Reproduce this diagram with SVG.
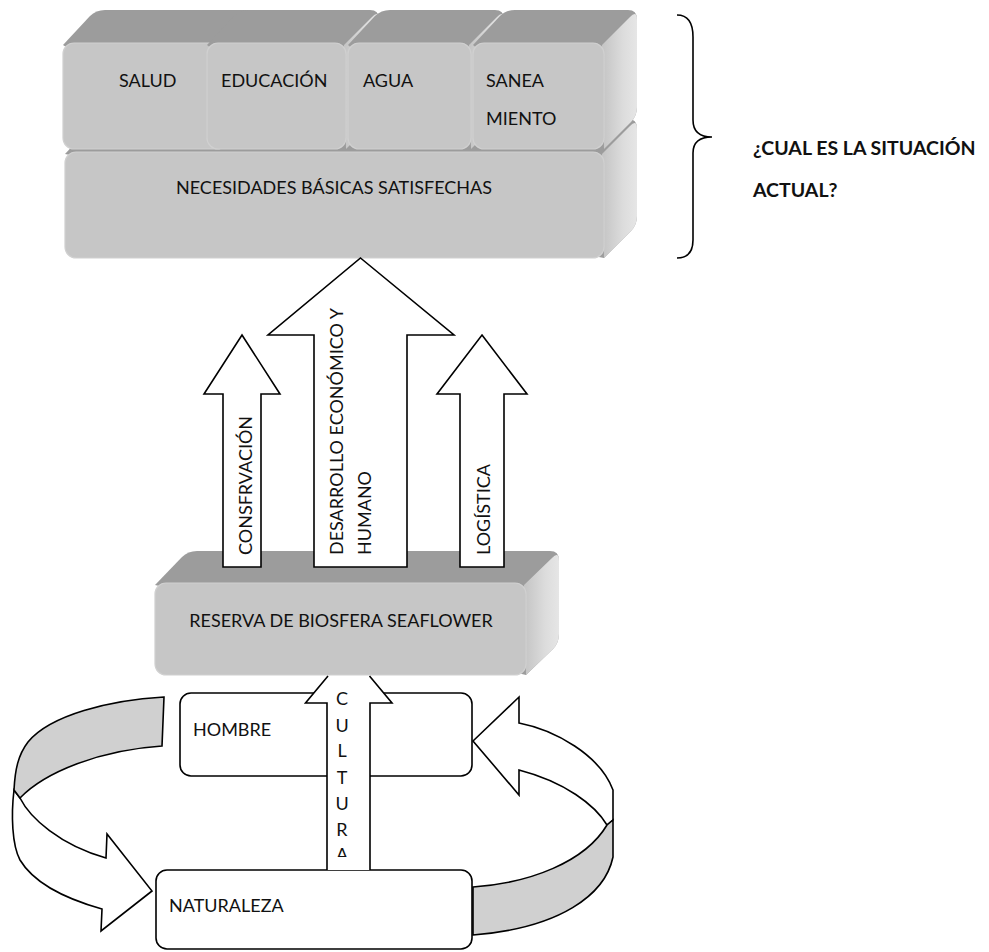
<svg xmlns="http://www.w3.org/2000/svg" width="989" height="952" viewBox="0 0 989 952">
<defs>
<linearGradient id="side" x1="0" y1="0" x2="1" y2="0">
<stop offset="0" stop-color="#c4c4c4"/>
<stop offset="0.6" stop-color="#dcdcdc"/>
<stop offset="1" stop-color="#e6e6e6"/>
</linearGradient>
<clipPath id="cultClip"><rect x="300" y="640" width="100" height="217"/></clipPath>
</defs>
<style>
text{font-family:Lato,"Liberation Sans",sans-serif;font-size:18px;fill:#111}
.b{font-weight:bold;font-size:19.5px}
.top{fill:#9c9c9c}
.side{fill:url(#side)}
.front{fill:#c6c6c6;stroke:#d0d0d0;stroke-width:1.2}
.box{fill:#fff;stroke:#000;stroke-width:1.6}
.arr{fill:#fff;stroke:#000;stroke-width:1.6;stroke-linejoin:miter}
.band{fill:#d0d0d0;stroke:#000;stroke-width:1.6}
.line{fill:none;stroke:#000;stroke-width:1.6}
</style>
<rect width="989" height="952" fill="#fff"/>

<g id="necesidades">
<path class="top" d="M65,154 L92,125 Q98,119 107,119 L628,119 Q637,119 637,128 L637,216 Q637,225 631,231 L604,258 Z"/>
<path class="side" d="M602,154 L630,126 Q637,119 637,129 L637,216 Q637,225 631,231 L604,258 Z"/>
<rect class="front" x="65" y="152" width="539" height="106" rx="11"/>
<text x="334" y="194" text-anchor="middle">NECESIDADES BÁSICAS SATISFECHAS</text>
</g>

<g id="salud">
<path class="top" d="M63,45 L90,16 Q96,10 105,10 L252,10 Q261,10 261,19 L261,107 Q261,116 255,122 L228,149 Z"/>
<rect class="front" x="63" y="43" width="165" height="106" rx="11"/>
<text x="119" y="87">SALUD</text>
</g>

<g id="educacion">
<path class="top" d="M207,45 L234,16 Q240,10 249,10 L370,10 Q379,10 379,19 L379,107 Q379,116 373,122 L346,149 Z"/>
<path class="side" d="M344,45 L372,17 Q379,10 379,20 L379,107 Q379,116 373,122 L346,149 Z"/>
<rect class="front" x="207" y="43" width="139" height="106" rx="11"/>
<text x="221" y="87">EDUCACIÓN</text>
</g>

<g id="agua">
<path class="top" d="M348,45 L375,16 Q381,10 390,10 L495,10 Q504,10 504,19 L504,107 Q504,116 498,122 L471,149 Z"/>
<path class="side" d="M469,45 L497,17 Q504,10 504,20 L504,107 Q504,116 498,122 L471,149 Z"/>
<rect class="front" x="348" y="43" width="123" height="106" rx="11"/>
<text x="363" y="87">AGUA</text>
</g>

<g id="saneamiento">
<path class="top" d="M473,45 L500,16 Q506,10 515,10 L628,10 Q637,10 637,19 L637,107 Q637,116 631,122 L604,149 Z"/>
<path class="side" d="M602,45 L630,17 Q637,10 637,20 L637,107 Q637,116 631,122 L604,149 Z"/>
<rect class="front" x="473" y="43" width="131" height="106" rx="11"/>
<text x="486" y="87">SANEA</text>
<text x="486" y="125">MIENTO</text>
</g>

<g id="situacion">
<path class="line" d="M677,15 Q693,15 693,37 L693,120 Q693,137 712,137 Q693,137 693,153 L693,240 Q693,258 677,258"/>
<text class="b" x="753" y="155">¿CUAL ES LA SITUACIÓN</text>
<text class="b" x="753" y="197">ACTUAL?</text>
</g>

<g id="hombre">
<rect class="box" x="180" y="693" width="292" height="83" rx="11"/>
<text x="193" y="736">HOMBRE</text>
</g>

<g id="naturaleza">
<rect class="box" x="156" y="870" width="316" height="79" rx="11"/>
<text x="169" y="912">NATURALEZA</text>
</g>

<g id="reserva">
<path class="top" d="M155,585 L182,557 Q188,551 197,551 L550,551 Q559,551 559,560 L559,634 Q559,643 553,649 L526,675 Z"/>
<path class="side" d="M524,585 L552,558 Q559,551 559,561 L559,634 Q559,643 553,649 L526,675 Z"/>
<rect class="front" x="155" y="583" width="371" height="92" rx="11"/>
<text x="341" y="627" text-anchor="middle">RESERVA DE BIOSFERA SEAFLOWER</text>
</g>

<g id="connectors">
<g id="arrow-cultura">
<path d="M328,676 L305.5,703 L327,703 L327,870 L370,870 L370,703 L392,703 L369.5,676 Z" fill="#fff"/>
<path class="line" d="M328,676 L305.5,703 L327,703 L327,870 M370,870 L370,703 L392,703 L369.5,676"/>
<g clip-path="url(#cultClip)">
<text x="342" y="705" text-anchor="middle">C</text>
<text x="342" y="732" text-anchor="middle">U</text>
<text x="342" y="757" text-anchor="middle">L</text>
<text x="342" y="784" text-anchor="middle">T</text>
<text x="342" y="810" text-anchor="middle">U</text>
<text x="342" y="836" text-anchor="middle">R</text>
<text x="342" y="861" text-anchor="middle">A</text>
</g>
</g>
<g id="arrow-conservacion">
<path class="arr" d="M242,335 L280,394 L261,394 L261,567 L223,567 L223,394 L204,394 Z"/>
<text transform="translate(252,555) rotate(-90)">CONSFRVACIÓN</text>
</g>
<g id="arrow-desarrollo">
<path class="arr" d="M360.5,258 L454,335 L407,335 L407,567 L314,567 L314,335 L268,335 Z"/>
<text transform="translate(343,555) rotate(-90)">DESARROLLO ECONÓMICO Y</text>
<text transform="translate(371,555) rotate(-90)">HUMANO</text>
</g>
<g id="arrow-logistica">
<path class="arr" d="M482,335 L527,394 L504,394 L504,567 L460,567 L460,394 L437,394 Z"/>
<text transform="translate(490,555) rotate(-90)">LOGÍSTICA</text>
</g>
<g id="cycle-left">
<path class="arr" d="M20,798 C30,818 60,845 106,858 L107,834 L152,891 L101,931 L102,909 C70,900 35,885 20,860 C12,845 11,815 14,790 Z"/>
<path class="band" d="M164,697 C110,700 50,715 28,742 C18,755 15,770 14,790 L20,798 C45,772 100,750 162,746 Z"/>
</g>
<g id="cycle-right">
<path class="arr" d="M473,741 L519,697 L519,723 C555,730 600,755 613,790 L613,820 L607,825 C595,805 565,782 519,770 L519,795 Z"/>
<path class="band" d="M473,887 C530,883 585,862 607,825 L613,820 L613,857 C605,895 560,928 473,935 Z"/>
</g>
</g>
</svg>
